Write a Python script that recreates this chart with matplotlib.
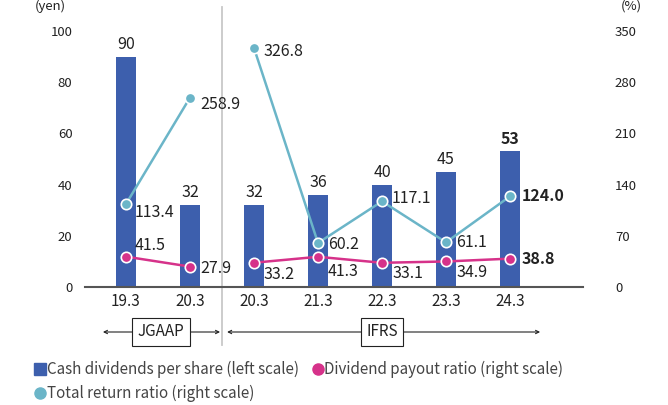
import numpy as np
import matplotlib
matplotlib.use('Agg')
import matplotlib.pyplot as plt
from matplotlib.lines import Line2D
from matplotlib.transforms import blended_transform_factory

plt.rcParams['font.family'] = ['Noto Sans CJK JP', 'DejaVu Sans']

# data
periods = ['19.3', '20.3', '20.3', '21.3', '22.3', '23.3', '24.3']
dividends = [90, 32, 32, 36, 40, 45, 53]
payout = [41.5, 27.9, 33.2, 41.3, 33.1, 34.9, 38.8]
total_return = [113.4, 258.9, 326.8, 60.2, 117.1, 61.1, 124.0]
left_ticks = [0, 20, 40, 60, 80, 100]
right_ticks = [0, 70, 140, 210, 280, 350]

# label styling (pixel offsets)
tr_off = [(9, -8), (10, -7), (10, -4), (10, -2), (10, 3), (10, 0), (12, 0)]
po_off = [(9, 11), (10, -2), (10, -12), (10, -15), (10, -11), (10, -11), (12, 0)]
bold_last = True

BLUE = '#3d5fad'
PINK = '#d6328a'
TEAL = '#6bb5c8'
TXT = '#222222'

fig = plt.figure(figsize=(6.68, 4.05), dpi=100)
ax = fig.add_axes([85/668, 1-287/405, 498/668, 256/405])
ax2 = ax.twinx()

x = np.arange(len(periods))
ax.bar(x, dividends, width=0.31, color=BLUE, zorder=1)
ax.set_xlim(-0.64, 7.14)
ax.set_ylim(0, 100)
ax2.set_ylim(0, 350)
ax.set_yticks(left_ticks)
ax2.set_yticks(right_ticks)
ax.set_xticks(x)
ax.set_xticklabels(periods)
for s in ['top', 'right', 'left']:
    ax.spines[s].set_visible(False)
    ax2.spines[s].set_visible(False)
ax2.spines['bottom'].set_visible(False)
ax.spines['bottom'].set_color('#555555')
ax.spines['bottom'].set_linewidth(1.5)
ax.tick_params(axis='y', length=0, pad=9, labelsize=9.5, labelcolor=TXT)
ax2.tick_params(axis='y', length=0, pad=23, labelsize=9.5, labelcolor=TXT)
ax.tick_params(axis='x', length=0, pad=4, labelsize=11, labelcolor=TXT)

n = len(periods)
for i in range(n):
    fw = 'bold' if (bold_last and i == n-1) else 'normal'
    ax.text(x[i], dividends[i] + 1.5, str(dividends[i]), ha='center', va='bottom',
            fontsize=11.5, color=TXT, fontweight=fw)

# lines break between JGAAP and IFRS
for seg in [slice(0, 2), slice(2, n)]:
    ax2.plot(x[seg], payout[seg], color=PINK, lw=1.8, marker='o', ms=7.5,
             mfc=PINK, mec='white', mew=1.2, zorder=3)
    ax2.plot(x[seg], total_return[seg], color=TEAL, lw=1.8, marker='o', ms=7.5,
             mfc=TEAL, mec='white', mew=1.2, zorder=3)

for i in range(n):
    fw = 'bold' if (bold_last and i == n-1) else 'normal'
    ax2.annotate(f'{total_return[i]:.1f}', (x[i], total_return[i]), xytext=tr_off[i],
                 textcoords='offset pixels', ha='left', va='center', fontsize=11.5,
                 color=TXT, fontweight=fw)
    ax2.annotate(f'{payout[i]:.1f}', (x[i], payout[i]), xytext=po_off[i],
                 textcoords='offset pixels', ha='left', va='center', fontsize=11.5,
                 color=TXT, fontweight=fw)

# divider and accounting standard arrows
tr = blended_transform_factory(ax.transData, ax.transAxes)
ax.add_line(Line2D([1.5, 1.5], [1.094, -0.227], transform=tr, color='#c8c8c8',
                   lw=1.3, clip_on=False))
ya = (287-332)/256
for x0, x1, xc, name in [(-0.36, 1.47, 0.55, 'JGAAP'), (1.58, 6.47, 4.0, 'IFRS')]:
    for xe in (x0, x1):
        ax.annotate('', xy=(xe, ya), xytext=(xc, ya), xycoords=tr, textcoords=tr,
                    arrowprops=dict(arrowstyle='->', lw=0.8, color=TXT, shrinkA=0,
                                    shrinkB=0, mutation_scale=6), annotation_clip=False)
    ax.text(xc, ya, name, transform=tr, ha='center', va='center', fontsize=11,
            color=TXT, bbox=dict(boxstyle='square,pad=0.35', fc='white', ec=TXT, lw=0.8))

fig.text(50/668, 1.0, '(yen)', ha='center', va='top', fontsize=9.5, color=TXT)
fig.text(631/668, 1.0, '(%)', ha='center', va='top', fontsize=9.5, color=TXT)

handles = [
    Line2D([], [], ls='', marker='s', ms=8, color=BLUE),
    Line2D([], [], ls='', marker='o', ms=8, color=TEAL),
    Line2D([], [], ls='', marker='o', ms=8, color=PINK),
]
labels = ['Cash dividends per share (left scale)', 'Total return ratio (right scale)',
          'Dividend payout ratio (right scale)']
fig.legend(handles, labels, ncol=2, loc='lower left', bbox_to_anchor=(0.045, -0.008),
           frameon=False, fontsize=10.9, handlelength=0.5, handletextpad=0.2,
           columnspacing=1.0, labelspacing=0.45, labelcolor='#444444', borderaxespad=0)

fig.savefig('out.png', dpi=100)
